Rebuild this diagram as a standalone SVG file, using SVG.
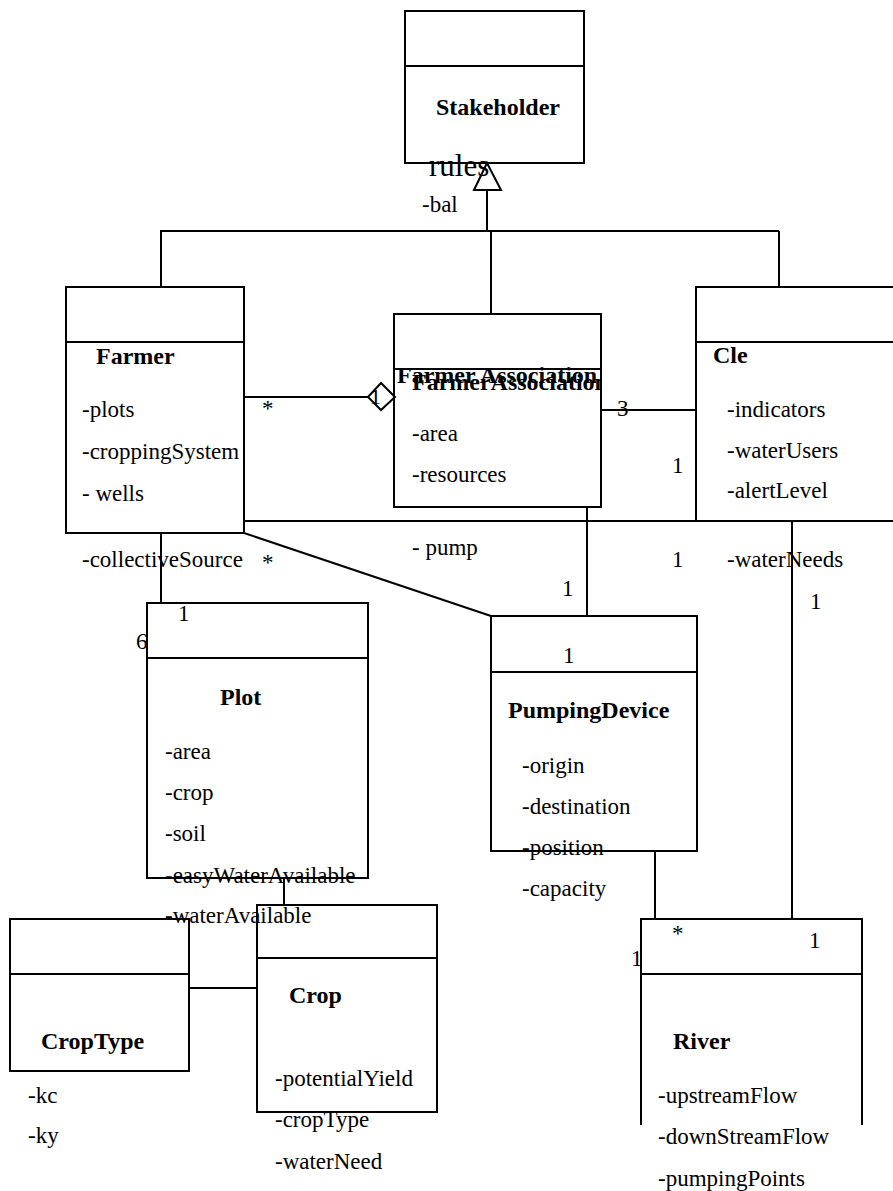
<svg xmlns="http://www.w3.org/2000/svg" width="893" height="1191" viewBox="0 0 893 1191">
<style>
.box{fill:none;stroke:#000;stroke-width:2}
.ln{fill:none;stroke:#000;stroke-width:2}
.t{font-family:"Liberation Serif","Times New Roman",serif;font-size:23px;fill:#000}
.b{font-family:"Liberation Serif","Times New Roman",serif;font-size:24px;font-weight:bold;fill:#000}
</style>
<defs>
<clipPath id="faClip"><rect x="394" y="314" width="207" height="193"/></clipPath>
</defs>
<rect width="893" height="1191" fill="#fff"/>
<g id="connectors">
<polyline class="ln" points="487,190 487,231"/>
<polyline class="ln" points="160,231 779,231"/>
<polyline class="ln" points="161,231 161,287"/>
<polyline class="ln" points="491,231 491,314"/>
<polyline class="ln" points="779,231 779,287"/>
<polygon points="487,163 474,190 501,190" fill="#fff" stroke="#000" stroke-width="2"/>
<line class="ln" x1="244" y1="397" x2="368" y2="397"/>
<polygon points="368,397 381,383 395,397 381,410" fill="#fff" stroke="#000" stroke-width="2"/>
<line class="ln" x1="601" y1="410" x2="696" y2="410"/>
<line class="ln" x1="244" y1="521" x2="696" y2="521"/>
<line class="ln" x1="244" y1="533" x2="491" y2="616"/>
<line class="ln" x1="161" y1="533" x2="161" y2="603"/>
<line class="ln" x1="587" y1="507" x2="587" y2="616"/>
<line class="ln" x1="792" y1="521" x2="792" y2="919"/>
<line class="ln" x1="655" y1="851" x2="655" y2="919"/>
<line class="ln" x1="284" y1="878" x2="284" y2="905"/>
<line class="ln" x1="189" y1="988" x2="257" y2="988"/>
</g>
<g id="stakeholder">
<rect class="box" x="405" y="11" width="179" height="152"/>
<line class="ln" x1="405" y1="66" x2="584" y2="66"/>
<text class="b" x="436" y="115">Stakeholder</text>
<text class="t" x="429" y="176" style="font-size:31px">rules</text>
<text class="t" x="422" y="212">-bal</text>
</g>
<g id="farmer">
<rect class="box" x="66" y="287" width="178" height="246"/>
<line class="ln" x1="66" y1="342" x2="244" y2="342"/>
<text class="b" x="96" y="364">Farmer</text>
<text class="t" x="82" y="417">-plots</text>
<text class="t" x="82" y="459">-croppingSystem</text>
<text class="t" x="82" y="501">- wells</text>
<text class="t" x="82" y="567">-collectiveSource</text>
<text class="t" x="262" y="570">*</text>
<text class="t" x="262" y="416">*</text>
</g>
<g id="farmerAssociation">
<rect class="box" x="394" y="314" width="207" height="193"/>
<line class="ln" x1="394" y1="369" x2="601" y2="369"/>
<text class="b" x="397" y="383">Farmer Association</text>
<text class="b" x="412" y="390" clip-path="url(#faClip)">FarmerAssociation</text>
<text class="t" x="370" y="404" style="font-size:22px">1</text>
<text class="t" x="412" y="441">-area</text>
<text class="t" x="412" y="482">-resources</text>
<text class="t" x="617" y="416">3</text>
<text class="t" x="412" y="555">- pump</text>
<text class="t" x="562" y="596">1</text>
</g>
<g id="cle">
<rect class="box" x="696" y="287" width="210" height="234"/>
<line class="ln" x1="696" y1="342" x2="893" y2="342"/>
<text class="b" x="713" y="363">Cle</text>
<text class="t" x="727" y="417">-indicators</text>
<text class="t" x="727" y="458">-waterUsers</text>
<text class="t" x="727" y="498">-alertLevel</text>
<text class="t" x="672" y="473">1</text>
<text class="t" x="672" y="567">1</text>
<text class="t" x="727" y="567">-waterNeeds</text>
<text class="t" x="810" y="609">1</text>
</g>
<g id="plot">
<rect class="box" x="147" y="603" width="221" height="275"/>
<line class="ln" x1="147" y1="658" x2="368" y2="658"/>
<text class="t" x="178" y="621">1</text>
<text class="t" x="136" y="649">6</text>
<text class="b" x="220" y="705">Plot</text>
<text class="t" x="165" y="759">-area</text>
<text class="t" x="165" y="800">-crop</text>
<text class="t" x="165" y="841">-soil</text>
<text class="t" x="165" y="883">-easyWaterAvailable</text>
<text class="t" x="165" y="923">-waterAvailable</text>
</g>
<g id="pumpingDevice">
<rect class="box" x="491" y="616" width="206" height="235"/>
<line class="ln" x1="491" y1="672" x2="697" y2="672"/>
<text class="t" x="563" y="663">1</text>
<text class="b" x="508" y="718">PumpingDevice</text>
<text class="t" x="522" y="773">-origin</text>
<text class="t" x="522" y="814">-destination</text>
<text class="t" x="522" y="855">-position</text>
<text class="t" x="522" y="896">-capacity</text>
</g>
<g id="cropType">
<rect class="box" x="10" y="919" width="179" height="152"/>
<line class="ln" x1="10" y1="974" x2="189" y2="974"/>
<text class="b" x="41" y="1049">CropType</text>
<text class="t" x="28" y="1103">-kc</text>
<text class="t" x="28" y="1143">-ky</text>
</g>
<g id="crop">
<rect class="box" x="257" y="905" width="180" height="207"/>
<line class="ln" x1="257" y1="958" x2="437" y2="958"/>
<text class="b" x="289" y="1003">Crop</text>
<text class="t" x="275" y="1086">-potentialYield</text>
<text class="t" x="275" y="1127">-cropType</text>
<text class="t" x="275" y="1169">-waterNeed</text>
</g>
<g id="river">
<polyline class="ln" points="641,1125 641,919 862,919 862,1125"/>
<line class="ln" x1="641" y1="974" x2="862" y2="974"/>
<text class="t" x="672" y="941">*</text>
<text class="t" x="809" y="948">1</text>
<text class="t" x="631" y="966">1</text>
<text class="b" x="673" y="1049">River</text>
<text class="t" x="658" y="1103">-upstreamFlow</text>
<text class="t" x="658" y="1144">-downStreamFlow</text>
<text class="t" x="658" y="1186">-pumpingPoints</text>
</g>
</svg>
